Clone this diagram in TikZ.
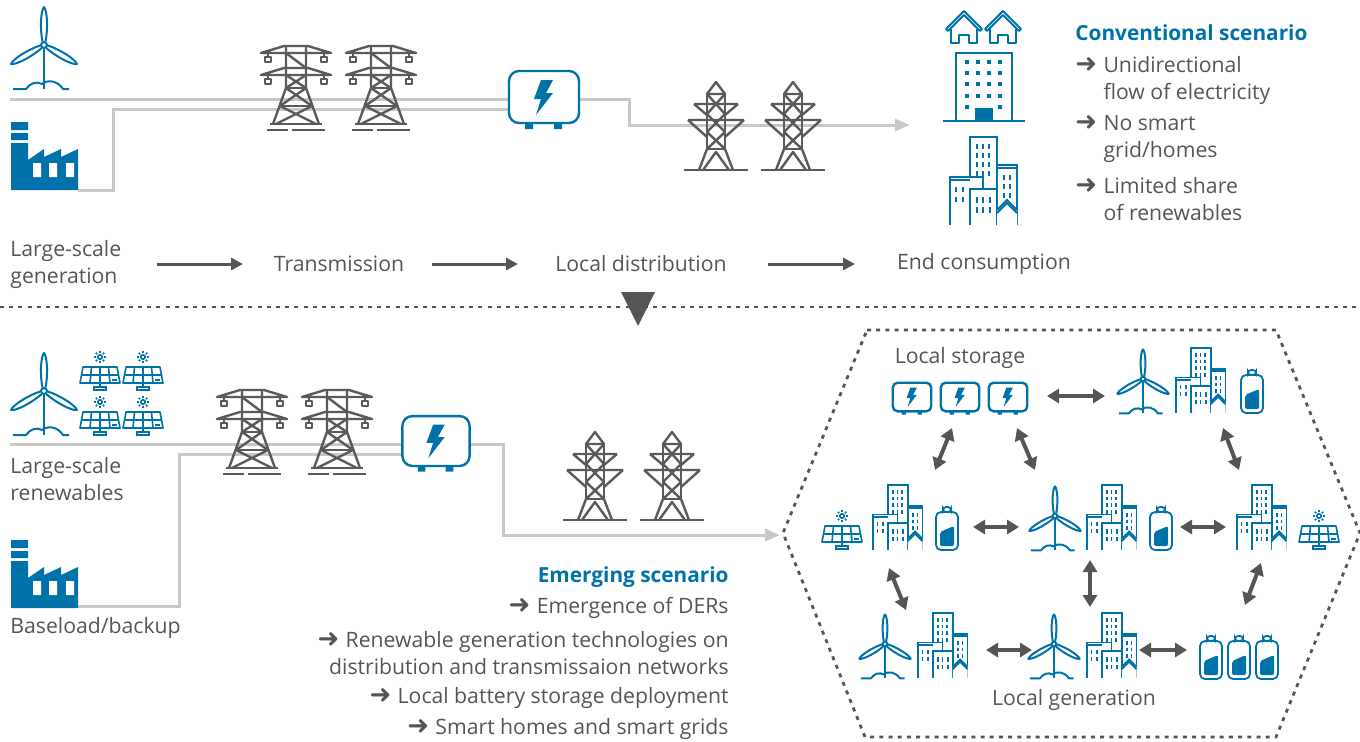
\documentclass[tikz,border=0pt]{standalone}
\usepackage{fontspec}
\setmainfont{Open Sans}
\newfontfamily\arrowfont{DejaVu Sans}
\usetikzlibrary{arrows.meta}

\definecolor{ireblue}{RGB}{0,114,170}
\definecolor{txtgray}{RGB}{85,85,85}
\definecolor{pylongray}{RGB}{90,90,90}
\definecolor{wiregray}{RGB}{200,200,200}

\newcommand{\bul}{{\arrowfont\fontsize{13}{13}\selectfont\char"279C}\hspace{0.3em}}

\tikzset{
  % wind turbine, origin at the hub
  turbine/.pic={
    \begin{scope}[ireblue, line width=1pt, line join=round]
      \draw (0,0) circle (3);
      \draw (0,3) -- (0,44);
      \foreach \a in {0,120,240}
        \draw[rotate=\a] (-1.5,-3.5) .. controls (-4,-15) and (-3.5,-34) .. (0,-38) .. controls (3.5,-34) and (4,-15) .. (1.5,-3.5);
      \draw (-31,44) -- (-18,44) .. controls (-14,38) and (-7,36) .. (-2,39) .. controls (4,34) and (14,36) .. (19,44) -- (25,44);
    \end{scope}
  },
  % factory, origin at the top of the chimney
  factory/.pic={
    \fill[ireblue] (0,0) rectangle (17,8) (0,11) rectangle (17,18);
    \fill[ireblue] (0,21) -- (17,21) -- (17,38) -- (33,27) -- (33,35) -- (50,27) -- (50,35) -- (67,27) -- (67,68) -- (0,68) -- cycle;
    \fill[white] (22,41) rectangle (30,55) (38,41) rectangle (46,55) (55,41) rectangle (63,55);
  },
  % transmission pylon, origin at top centre
  pylon/.pic={
    \begin{scope}[pylongray, line width=1.2pt, line join=round]
      \draw (-12,0) -- (12,0) -- (35,7) -- (-35,7) -- cycle;
      \draw (-12,22) -- (12,22) -- (35,29) -- (-35,29) -- cycle;
      \foreach \sx in {-28,28} \foreach \sy in {7,29} {
        \draw (\sx,\sy) -- (\sx,\sy+4);
        \draw (\sx-3,\sy+4) rectangle (\sx+3,\sy+9);
      }
      \draw (-10,0) -- (-10,42) -- (-23,78);
      \draw (10,0) -- (10,42) -- (23,78);
      \draw (-10,7) -- (10,22) (-10,29) -- (10,42) (10,29) -- (-10,42);
      \draw (-10,42) -- (10,42) (-16,60) -- (16,60);
      \draw (-10,42) -- (16,60) (10,42) -- (-16,60);
      \draw (-16,60) -- (20,78) (16,60) -- (-20,78);
      \draw (-26,78) -- (26,78);
      \draw (-29,84) -- (-8,84) (-4,84) -- (29,84);
    \end{scope}
  },
  % distribution pylon, origin at the peak
  minipylon/.pic={
    \begin{scope}[pylongray, line width=1.2pt, line join=round]
      \draw (0,0) -- (-9,12) -- (9,12) -- cycle;
      \draw (-9,12) -- (-9,67) (9,12) -- (9,67);
      \draw (-9,12) -- (9,32) (9,12) -- (-9,32);
      \draw (-9,32) -- (9,50) (9,32) -- (-9,50);
      \draw (-9,50) -- (9,67) (9,50) -- (-9,67);
      \draw (-22,22) -- (22,22) (-22,22) -- (-9,33) (22,22) -- (9,33);
      \draw (-28,38) -- (28,38) (-28,38) -- (-9,55) (28,38) -- (9,55);
      \draw (-9,67) -- (9,67);
      \draw (-9,67) -- (-17,88) (9,67) -- (17,88);
      \draw (-13,88) -- (0,70) -- (13,88);
      \draw (-32,88) -- (32,88);
    \end{scope}
  },
  % transformer box, origin at its centre; argument = corner radius
  pics/transformer/.style={code={
    \draw[ireblue, line width=1.2pt, fill=white, rounded corners=#1] (-35,-26) rectangle (35,26);
    \fill[ireblue] (-19,26) rectangle (-11,32) (10,26) rectangle (18,32);
    \fill[ireblue] (-3,-17) -- (9,-17) -- (2,-4) -- (9,-4) -- (-8,18) -- (-3,2) -- (-10,2) -- cycle;
  }},
  pics/transformer/.default=5pt,
  % solar panel, origin at the sun
  solar/.pic={
    \begin{scope}[ireblue, line width=0.8pt]
      \draw (0,0) circle (2.2);
      \foreach \a in {0,45,...,315} \draw (\a:4) -- (\a:6);
      \draw[line join=round] (-17,10) -- (17,10) -- (20,26) -- (-20,26) -- cycle;
      \draw (-18.5,18) -- (18.5,18);
      \draw (-8.5,10) -- (-10,26) (0,10) -- (0,26) (8.5,10) -- (10,26);
      \draw (12,23) -- (17,23);
      \draw (0,26) -- (0,30);
      \draw (-6,30) rectangle (6,33);
    \end{scope}
  },
  % group of city blocks, origin at bottom left
  city/.pic={
    \begin{scope}[ireblue, line width=0.9pt]
      \fill[white] (20,0) rectangle (47,-88);
      \draw (20,0) -- (20,-88) -- (47,-88) -- (47,0);
      \foreach \x in {27,33,39} \foreach \y in {-81,-72,-63,-54} \draw (\x,\y) -- (\x,\y+5);
      \fill[white] (47,0) rectangle (67,-60);
      \draw (47,0) -- (47,-60) -- (67,-60) -- (67,0);
      \draw (47,-57) -- (67,-57);
      \foreach \x in {54,60} \foreach \y in {-50,-41,-32} \draw (\x,\y) -- (\x,\y+5);
      \fill[white] (0,0) rectangle (33,-48);
      \draw (0,0) -- (0,-48) -- (33,-48) -- (33,-36);
      \draw (0,-45) -- (20,-45);
      \foreach \x in {6,13} \foreach \y in {-38,-28} \draw (\x,\y) -- (\x,\y+5);
      \fill[white] (20,0) rectangle (47,-36);
      \draw (20,0) -- (20,-36) -- (47,-36) -- (47,0);
      \foreach \x in {27,33,40} \foreach \y in {-28,-18} \draw (\x,\y) -- (\x,\y+6);
      \fill[white] (47,-15) -- (57,-25) -- (67,-15) -- (67,0) -- (47,0) -- cycle;
      \draw (47,-15) -- (57,-25) -- (67,-15);
      \draw (47,-12) -- (57,-22) -- (67,-12);
    \end{scope}
  },
  % battery, origin at bottom left
  battery/.pic={
    \draw[ireblue, line width=0.9pt, rounded corners=2.5] (0,0) rectangle (22,-38);
    \draw[ireblue, line width=0.9pt, rounded corners=1.5] (7,-38) rectangle (15,-43);
    \fill[ireblue, rounded corners=1] (4,-4) -- (18,-4) -- (18,-24) -- (4,-18) -- cycle;
  },
  % office block, origin at the middle of the ground line
  office/.pic={
    \begin{scope}[ireblue, line width=1pt]
      \draw (-41,0) -- (41,0);
      \draw (-28,0) -- (-28,-68) -- (28,-68) -- (28,0);
      \foreach \x in {-17,-6,5,16} \foreach \y in {-59,-48,-37,-25}
        \fill (\x-2,\y-2) rectangle (\x+2,\y+2);
      \fill (-19,-16) rectangle (-15,-12) (14,-16) rectangle (18,-12);
      \fill (-9,-13) rectangle (9,0);
    \end{scope}
  },
  % house, origin at the middle of the floor
  house/.pic={
    \begin{scope}[ireblue, line width=0.9pt, line join=round]
      \draw (-18,-14) -- (0,-32) -- (18,-14) -- (16,-12) -- (0,-28) -- (-16,-12) -- cycle;
      \draw (-13,-14) -- (-13,0) -- (-5,0) -- (-5,-8) -- (5,-8) -- (5,0) -- (13,0) -- (13,-14);
    \end{scope}
  }
}

\begin{document}
\begin{tikzpicture}[x=0.5pt, y=-0.5pt,
  wire/.style={wiregray, line width=1.5pt},
  wirearrow/.style={wire, -{Triangle[length=7.5pt,width=6pt]}},
  flow/.style={txtgray, line width=1.5pt, -{Triangle[length=6pt,width=6pt]}},
  trade/.style={txtgray, line width=2pt, {Triangle[length=6pt,width=7pt]}-{Triangle[length=6pt,width=7pt]}},
  sepline/.style={txtgray, line width=1.4pt, dash pattern=on 2pt off 2.6pt},
  txt/.style={text=txtgray, font=\fontsize{10.6}{13.5}\selectfont, inner sep=0pt},
  title/.style={text=ireblue, font=\fontsize{10.4}{13.5}\selectfont\bfseries, inner sep=0pt}]
\useasboundingbox (0,0) rectangle (1360,741);

% ---------- conventional scenario ----------
% wires
\draw[wire] (10,99) -- (509,99);
\draw[wire] (78,190) -- (113,190) -- (113,109) -- (509,109);
\draw[wirearrow] (579,99) -- (629,99) -- (629,125) -- (910,125);

% generation
\pic at (44,45) {turbine};
\pic at (11,122) {factory};

% transmission and distribution
\pic at (296,46) {pylon};
\pic at (381,46) {pylon};
\pic at (544,97) {transformer};
\pic at (716,82) {minipylon};
\pic at (793,82) {minipylon};

% consumers
\pic at (964,43) {house};
\pic at (1003,43) {house};
\pic at (984,121) {office};
\pic at (950,225) {city};

% stages
\node[txt, anchor=west, align=left] (gen) at (10,264) {Large-scale\\generation};
\node[txt] (trans) at (339,264) {Transmission};
\node[txt] (dist) at (641,264) {Local distribution};
\node[txt] (cons) at (984,264) {End consumption};
\draw[flow] (157,264) -- (243,264);
\draw[flow] (432,264) -- (518,264);
\draw[flow] (768,264) -- (855,264);

% key points
\node[title, anchor=west] (conv) at (1075,33) {Conventional scenario};
\node[txt, anchor=west, align=left] (c1) at (1075,80) {\bul Unidirectional\\\hphantom{\bul}flow of electricity};
\node[txt, anchor=west, align=left] (c2) at (1075,139) {\bul No smart\\\hphantom{\bul}grid/homes};
\node[txt, anchor=west, align=left] (c3) at (1075,199) {\bul Limited share\\\hphantom{\bul}of renewables};

% separator
\draw[sepline] (0,307) -- (1360,307);
\fill[txtgray] (621,292) -- (655,292) -- (638,326) -- cycle;

% ---------- emerging scenario ----------
% wires
\draw[wire] (10,444) -- (402,444);
\draw[wire] (78,606) -- (179,606) -- (179,454) -- (402,454);
\draw[wirearrow] (470,444) -- (503,444) -- (503,535) -- (780,535);

% generation
\pic at (44,391) {turbine};
\pic at (100,357) {solar};
\pic at (143,357) {solar};
\pic at (100,402) {solar};
\pic at (143,402) {solar};
\pic at (11,540) {factory};

\pic at (252,390) {pylon};
\pic at (337,390) {pylon};
\pic[scale=0.96] at (436,441) {transformer};
\pic at (595,432) {minipylon};
\pic at (672,432) {minipylon};

\node[txt, anchor=west, align=left] (ren) at (10,479) {Large-scale\\renewables};
\node[txt, anchor=west] (base) at (10,628) {Baseload/backup};

% key points
\node[title, anchor=east] (emer) at (729,577) {Emerging scenario};
\node[txt, anchor=east] (e1) at (729,608) {\bul Emergence of DERs};
\node[txt, anchor=east, align=right] (e2) at (729,653) {\bul Renewable generation technologies on\\distribution and transmissaion networks};
\node[txt, anchor=east] (e3) at (729,698) {\bul Local battery storage deployment};
\node[txt, anchor=east] (e4) at (729,729) {\bul Smart homes and smart grids};

% local energy community
\draw[sepline] (867,330) -- (1276,330) -- (1360,533) -- (1276,737) -- (865,737) -- (783,533) -- cycle;
\node[txt] (store) at (960,358) {Local storage};
\node[txt] (lgen) at (1074,700) {Local generation};

% storage row
\pic[scale=0.55] at (912,397) {transformer=2.5pt};
\pic[scale=0.55] at (960,397) {transformer=2.5pt};
\pic[scale=0.55] at (1008,397) {transformer=2.5pt};
\pic[scale=0.78] at (1143,379) {turbine};
\pic[scale=0.74] at (1176,413) {city};
\pic at (1241,413) {battery};

% middle row
\pic at (842,516) {solar};
\pic[scale=0.74] at (873,550) {city};
\pic at (936,550) {battery};
\pic[scale=0.78] at (1055,516) {turbine};
\pic[scale=0.74] at (1087,550) {city};
\pic at (1150,550) {battery};
\pic[scale=0.74] at (1237,550) {city};
\pic at (1319,516) {solar};

% generation row
\pic[scale=0.78] at (885,644) {turbine};
\pic[scale=0.74] at (918,678) {city};
\pic[scale=0.78] at (1054,644) {turbine};
\pic[scale=0.74] at (1087,678) {city};
\pic at (1200,679) {battery};
\pic at (1228,679) {battery};
\pic at (1256,679) {battery};

% exchanges
\draw[trade] (1047,396) -- (1105,396);
\draw[trade] (952,428) -- (935,470);
\draw[trade] (1017,428) -- (1035,470);
\draw[trade] (1223,428) -- (1239,470);
\draw[trade] (973,527) -- (1019,527);
\draw[trade] (1180,527) -- (1226,527);
\draw[trade] (889,568) -- (906,610);
\draw[trade] (1090,560) -- (1090,607);
\draw[trade] (1261,563) -- (1245,605);
\draw[trade] (986,650) -- (1032,650);
\draw[trade] (1139,650) -- (1187,650);

\end{tikzpicture}
\end{document}
